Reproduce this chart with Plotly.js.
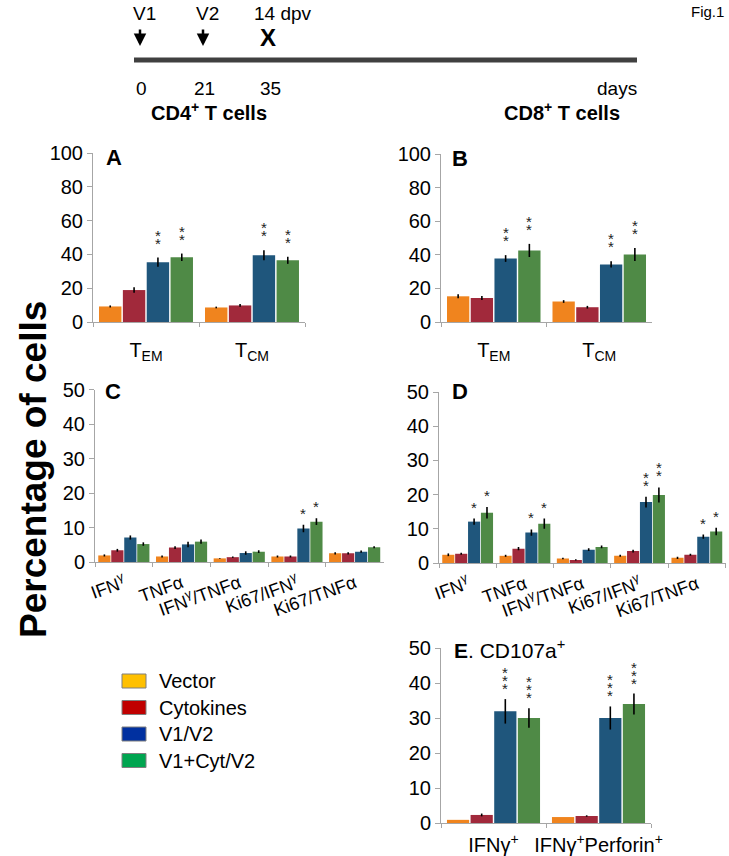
<!DOCTYPE html>
<html><head><meta charset="utf-8">
<script src="https://cdn.plot.ly/plotly-3.0.1.min.js"></script>
<style>html,body{margin:0;padding:0;background:#fff;}#chart{width:729px;height:856px;}</style>
</head><body><div id="chart"></div>
<script>
// ---------- data ----------
const groupNames = ['Vector', 'Cytokines', 'V1/V2', 'V1+Cyt/V2'];
const barColors = ['#F0841E', '#A1293B', '#1F567C', '#4F8A46'];
const legendColors = ['#FFC000', '#C00000', '#0030A0', '#00A550'];

const memoryCats = ['T<sub>EM</sub>', 'T<sub>CM</sub>'];
const cytokineCats = ['IFN<sup>γ</sup>', 'TNFα', 'IFN<sup>γ</sup>/TNFα', 'Ki67/IFN<sup>γ</sup>', 'Ki67/TNFα'];
const cd107Cats = ['IFNγ<sup>+</sup>', 'IFNγ<sup>+</sup>Perforin<sup>+</sup>'];

// Panel A: CD4 memory
const cd4MemVals = [[9.2, 8.6], [18.9, 9.8], [35.4, 39.5], [38.3, 36.5]];
const cd4MemErr = [[0.6, 0.5], [1.6, 0.8], [2.7, 2.9], [2.2, 2.1]];
const cd4MemStars = [[0, 0], [0, 0], [2, 2], [2, 2]];
// Panel B: CD8 memory
const cd8MemVals = [[15.3, 12.2], [14.3, 8.8], [37.8, 34.3], [42.6, 40.2]];
const cd8MemErr = [[1.2, 0.8], [1.2, 0.8], [2.0, 1.9], [3.9, 3.9]];
const cd8MemStars = [[0, 0], [0, 0], [2, 2], [2, 2]];
// Panel C: CD4 cytokines
const cd4CytVals = [[1.9, 1.6, 1.05, 1.6, 2.5], [3.4, 4.2, 1.4, 1.6, 2.5], [7.1, 5.1, 2.6, 9.7, 3.0], [5.2, 5.9, 3.0, 11.7, 4.3]];
const cd4CytErr = [[0.3, 0.3, 0.1, 0.3, 0.3], [0.4, 0.4, 0.2, 0.3, 0.3], [0.6, 0.8, 0.5, 1.1, 0.3], [0.5, 0.6, 0.4, 1.0, 0.3]];
const cd4CytStars = [[0, 0, 0, 0, 0], [0, 0, 0, 0, 0], [0, 0, 0, 1, 0], [0, 0, 0, 1, 0]];
// Panel D: CD8 cytokines
const cd8CytVals = [[2.4, 2.1, 1.3, 2.1, 1.5], [2.7, 4.2, 0.9, 3.5, 2.4], [12.1, 8.9, 3.9, 17.8, 7.7], [14.7, 11.5, 4.7, 19.9, 9.2]];
const cd8CytErr = [[0.4, 0.3, 0.2, 0.3, 0.3], [0.3, 0.5, 0.2, 0.4, 0.3], [0.9, 0.9, 0.4, 1.6, 0.6], [1.7, 1.5, 0.4, 2.2, 1.1]];
const cd8CytStars = [[0, 0, 0, 0, 0], [0, 0, 0, 0, 0], [1, 1, 0, 2, 1], [1, 1, 0, 2, 1]];
// Panel E: CD107a+
const cd107Vals = [[0.9, 1.7], [2.3, 2.0], [31.9, 30.0], [30.0, 34.0]];
const cd107Err = [[0, 0], [0.4, 0.2], [3.5, 3.3], [2.8, 3.0]];
const cd107Stars = [[0, 0], [0, 0], [3, 3], [3, 3]];

// timeline texts
const timelineEvents = ['V1', 'V2', '14 dpv'];
const timelineDays = ['0', '21', '35'];

// ---------- layout helpers ----------
const W = 729, H = 856;
const px = x => x / W;
const py = y => 1 - y / H;
const FONT = '"Liberation Sans", Arial, Helvetica, sans-serif';
const BARGAP = 0.1;

const panels = [
  {id: '', letter: 'A', cats: memoryCats, vals: cd4MemVals, err: cd4MemErr, stars: cd4MemStars,
   x: [93, 305], y: [322, 153], range: [0, 100], dtick: 20, tickfs: 20, angle: 0, standoff: 10, starShift: 4, lx: 114, ly: 157},
  {id: '2', letter: 'B', cats: memoryCats, vals: cd8MemVals, err: cd8MemErr, stars: cd8MemStars,
   x: [441, 652], y: [322, 154], range: [0, 100], dtick: 20, tickfs: 20, angle: 0, standoff: 10, starShift: 4, lx: 460, ly: 158},
  {id: '3', letter: 'C', cats: cytokineCats, vals: cd4CytVals, err: cd4CytErr, stars: cd4CytStars,
   x: [95, 383.5], y: [562, 389.5], range: [0, 50], dtick: 10, tickfs: 18, angle: -20, standoff: 3, starShift: 1, lx: 113, ly: 391},
  {id: '4', letter: 'D', cats: cytokineCats, vals: cd8CytVals, err: cd8CytErr, stars: cd8CytStars,
   x: [439, 725.5], y: [563, 392], range: [0, 50], dtick: 10, tickfs: 18, angle: -20, standoff: 3, starShift: 1, lx: 460, ly: 392},
  {id: '5', letter: 'E', cats: cd107Cats, vals: cd107Vals, err: cd107Err, stars: cd107Stars,
   x: [441, 651], y: [823, 648], range: [0, 50], dtick: 10, tickfs: 20, angle: 0, standoff: 4, starShift: 0, lx: 452, ly: 649}
];

const traces = [];
const annotations = [];
const shapes = [];
const layout = {
  width: W, height: H,
  margin: {l: 0, r: 0, t: 0, b: 0, pad: 0, autoexpand: false},
  paper_bgcolor: '#fff', plot_bgcolor: '#fff',
  barmode: 'group', bargap: BARGAP, bargroupgap: 0.06,
  showlegend: false,
  font: {family: FONT, color: '#000'},
  annotations: annotations, shapes: shapes
};

// paper-positioned text helper (pixel coords from top-left)
function label(x, y, text, size, extra) {
  annotations.push(Object.assign({xref: 'paper', yref: 'paper', x: px(x), y: py(y),
    xanchor: 'center', yanchor: 'middle', text: text, showarrow: false,
    font: {size: size, family: FONT, color: '#000'}}, extra || {}));
}

panels.forEach(p => {
  const xa = 'x' + p.id, ya = 'y' + p.id;
  groupNames.forEach((g, i) => {
    traces.push({
      type: 'bar', name: g, x: p.cats, y: p.vals[i],
      xaxis: xa, yaxis: ya,
      marker: {color: barColors[i]},
      error_y: {type: 'data', array: p.err[i], visible: true, color: '#000', thickness: 1.6, width: 0},
      hoverinfo: 'skip'
    });
  });
  layout['xaxis' + p.id] = {
    domain: [px(p.x[0]), px(p.x[1])], anchor: ya, type: 'category',
    showline: true, linecolor: '#A6A6A6', linewidth: 1,
    ticks: 'outside', tickson: 'boundaries', ticklen: 4, tickcolor: '#A6A6A6',
    showgrid: false, zeroline: false, fixedrange: true, automargin: false,
    tickangle: p.angle, ticklabelstandoff: p.standoff,
    tickfont: {size: p.tickfs, family: FONT, color: '#000'}
  };
  layout['yaxis' + p.id] = {
    domain: [py(p.y[0]), py(p.y[1])], anchor: xa, range: p.range, dtick: p.dtick,
    showline: true, linecolor: '#A6A6A6', linewidth: 1,
    ticks: 'outside', ticklen: 5, tickcolor: '#A6A6A6',
    showgrid: false, zeroline: false, fixedrange: true, automargin: false,
    tickfont: {size: 20, family: FONT, color: '#000'}
  };
  // significance stars
  const cw = (p.x[1] - p.x[0]) / p.cats.length;
  const slot = cw * (1 - BARGAP) / groupNames.length;
  groupNames.forEach((g, i) => {
    p.stars[i].forEach((n, c) => {
      for (let k = 0; k < n; k++) {
        annotations.push({
          xref: xa, yref: ya, x: c, y: p.vals[i][c] + p.err[i][c],
          xanchor: 'center', yanchor: 'bottom',
          xshift: (i - (groupNames.length - 1) / 2) * slot,
          yshift: p.starShift + k * 8,
          text: '*', showarrow: false,
          font: {size: 15, color: '#222', family: FONT}
        });
      }
    });
  });
  // panel letters
  if (p.letter === 'E') {
    label(p.lx, p.ly, '<b>E</b>. CD107a<sup>+</sup>', 21, {xanchor: 'left'});
  } else {
    label(p.lx, p.ly, '<b>' + p.letter + '</b>', 22);
  }
});

// column titles
label(209, 111, '<b>CD4<sup>+</sup> T cells</b>', 20);
label(562, 111, '<b>CD8<sup>+</sup> T cells</b>', 20);

// y title
label(33, 470, '<b>Percentage of cells</b>', 37, {textangle: -90});

// legend
groupNames.forEach((g, i) => {
  const cy = 681 + i * 26.5;
  shapes.push({type: 'rect', xref: 'paper', yref: 'paper', x0: px(122), x1: px(146), y0: py(cy - 7), y1: py(cy + 7),
    fillcolor: legendColors[i], line: {color: '#7F7F7F', width: 1}});
  label(157, cy, g, 20, {xanchor: 'left'});
});

// timeline
shapes.push({type: 'line', xref: 'paper', yref: 'paper', x0: px(134), x1: px(637), y0: py(60), y1: py(60),
  line: {color: '#404040', width: 5}});
const evX = [144, 207, 283];
const dayX = [141, 204, 270];
timelineEvents.forEach((t, i) => label(evX[i], 13, t, 19));
timelineDays.forEach((t, i) => label(dayX[i], 88, t, 19));
label(617, 88, 'days', 19);
label(707, 12, 'Fig.1', 15);
[140, 203].forEach(ax => {
  annotations.push({xref: 'paper', yref: 'paper', x: px(ax), y: py(46), ax: 0, ay: -18, text: '',
    showarrow: true, arrowhead: 2, arrowsize: 1, arrowwidth: 2.5, arrowcolor: '#000'});
});
label(268, 38, '<b>X</b>', 24);

Plotly.newPlot('chart', traces, layout, {displayModeBar: false, staticPlot: true});
</script></body></html>
